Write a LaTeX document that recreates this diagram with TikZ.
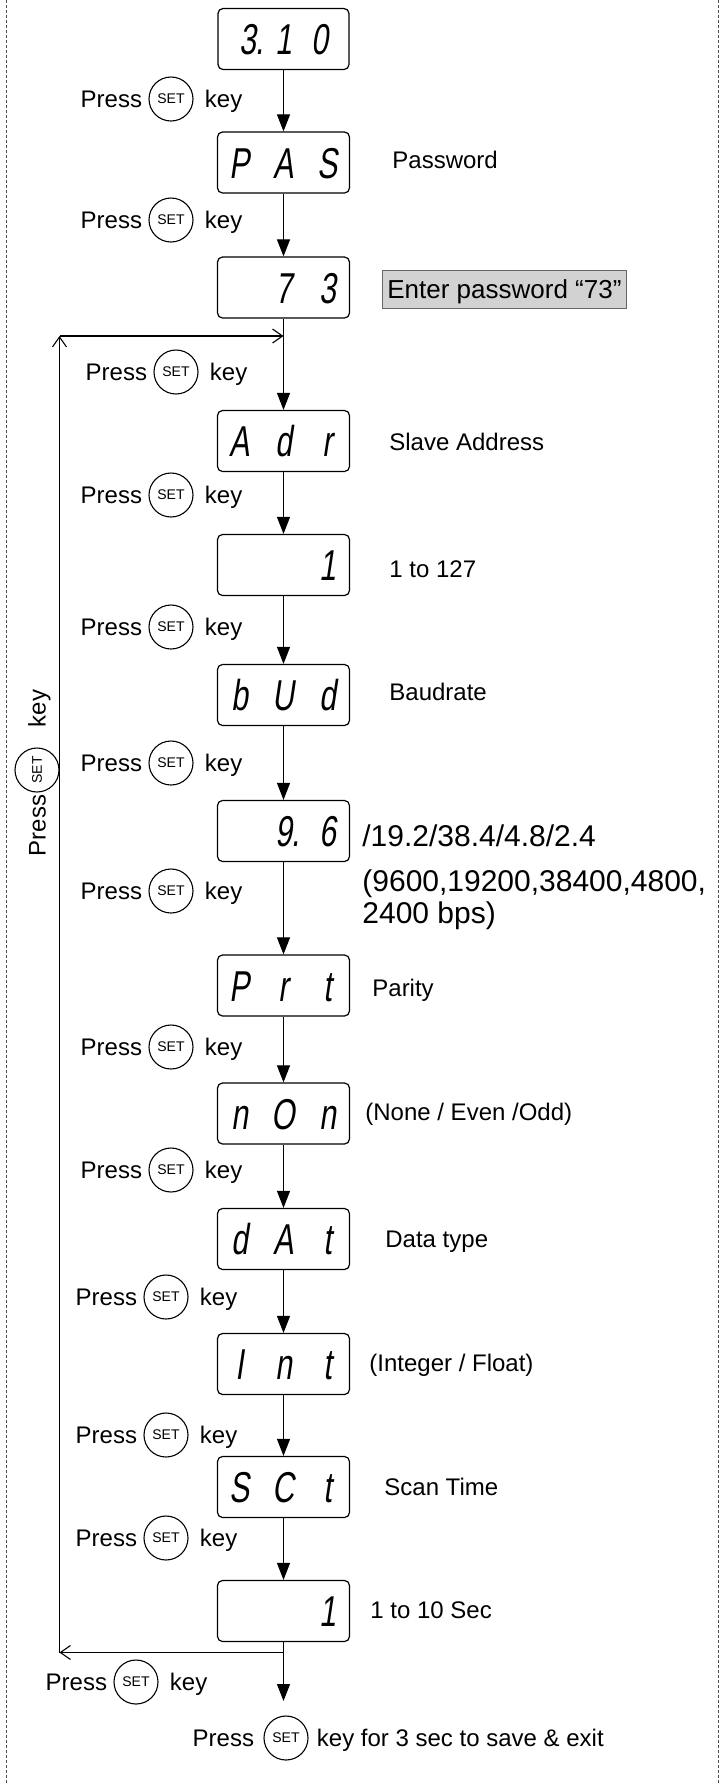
\documentclass[tikz,border=0pt]{standalone}
\usepackage{fontspec}
\setmainfont{Liberation Sans}
\newfontfamily\lcdfont[FakeStretch=0.7,FakeSlant=0.15]{Liberation Sans}
\usetikzlibrary{arrows.meta,positioning}
\newcommand{\lcd}[4][22pt]{\makebox[#1]{#2}\makebox[#1]{#3}\makebox[#1]{#4}}

\begin{document}
\begin{tikzpicture}[x=0.5pt,y=-0.5pt,
    lcdbox/.style={draw,line width=0.6pt,rounded corners=2.5pt,minimum width=65.5pt,minimum height=30.5pt,inner sep=0pt,
        font=\lcdfont\fontsize{21.6}{22}\selectfont,text height=15.5pt,text depth=0pt},
    setkey/.style={draw,circle,line width=0.55pt,minimum size=22pt,inner sep=0pt,font=\fontsize{7}{8}\selectfont},
    txt/.style={inner sep=0pt,font=\fontsize{12}{14}\selectfont,text height=8.6pt,text depth=0pt},
    big/.style={txt,font=\fontsize{15}{17}\selectfont,text height=10.7pt},
    flow/.style={line width=0.55pt,-{Triangle[length=8.5pt,width=6.5pt]}},
    back/.style={line width=0.55pt,-{Straight Barb[length=5pt,width=7pt]}}]
        \useasboundingbox (0,0) rectangle (721,1784);
        % 枠
        \draw[line width=0.4pt,black!70,dash pattern=on 1.5pt off 1pt] (6,0)--(6,1784);
        \draw[line width=0.4pt,black!70,dash pattern=on 1.5pt off 1pt] (718,0)--(718,1784);
        % 表示
        \node[lcdbox] (b1) at (283.5,39) {\lcd[18pt]{3\rlap{.}}{1}{0}};
        \node[lcdbox] (b2) at (283.5,162.5) {\lcd{P}{A}{S}};
        \node[lcdbox] (b3) at (283.5,287.5) {\lcd{}{7}{3}};
        \node[lcdbox] (b4) at (283.5,441) {\lcd{A}{d}{r}};
        \node[lcdbox] (b5) at (283.5,565) {\lcd{}{}{1}};
        \node[lcdbox] (b6) at (283.5,695) {\lcd{b}{U}{d}};
        \node[lcdbox] (b7) at (283.5,831) {\lcd{}{9\rlap{.}}{6}};
        \node[lcdbox] (b8) at (283.5,985.5) {\lcd{P}{r}{t}};
        \node[lcdbox] (b9) at (283.5,1113.5) {\lcd{n}{O}{n}};
        \node[lcdbox] (b10) at (283.5,1239) {\lcd{d}{A}{t}};
        \node[lcdbox] (b11) at (283.5,1364) {\lcd{I}{n}{t}};
        \node[lcdbox] (b12) at (283.5,1487) {\lcd{S}{C}{t}};
        \node[lcdbox] (b13) at (283.5,1611) {\lcd{}{}{1}};
        % 矢印
        \foreach \a/\b in {b1/b2,b2/b3,b3/b4,b4/b5,b5/b6,b6/b7,b7/b8,b8/b9,b9/b10,b10/b11,b11/b12,b12/b13}
            \draw[flow] (\a)--(\b);
        \coordinate (end) at (283.5,1701);
        \draw[flow] (b13)--(end);
        % 戻り
        \coordinate (jt) at (283.5,336);
        \coordinate (lt) at (59.5,336);
        \coordinate (jb) at (283.5,1652.5);
        \coordinate (lb) at (59.5,1652.5);
        \draw[back] (jb)--(lb);
        \draw[back] (lb)--(lt);
        \draw[back] (lt)--(jt);
        % キー
        \foreach \n/\cx/\cy in {1/171/99,2/171/220,3/176/372,4/171/495,5/171/627,6/171/763,7/171/891,
                8/171/1047,9/171/1170,10/166/1297,11/166/1435,12/166/1538,13/136/1682} {
            \node[setkey] (s\n) at (\cx,\cy) {SET};
            \node[txt,left=3pt of s\n] (p\n) {Press};
            \node[txt,right=5.5pt of s\n] (k\n) {key};
        }
        \node[setkey,rotate=90] (sv) at (37,770) {SET};
        \node[txt,rotate=90,anchor=east] (pv) at ([yshift=-1pt]sv.west) {Press};
        \node[txt,rotate=90,anchor=west] (kv) at ([yshift=10pt]sv.east) {key};
        \node[setkey] (sf) at (286,1738) {SET};
        \node[txt,left=4.5pt of sf] (pf) {Press};
        \node[txt,right=4pt of sf] (kf) {key for 3 sec to save \& exit};
        % 説明
        \node[txt,anchor=west] (t2) at (392,160) {Password};
        \node[txt,anchor=west,font=\fontsize{13}{15}\selectfont,text height=9.3pt,draw=black!60,fill=gray!35,
            inner xsep=2.5pt,minimum height=19pt] (t3) at (382,289.5) {Enter password “73”};
        \node[txt,anchor=west] (t4) at (389,442) {Slave Address};
        \node[txt,anchor=west] (t5) at (389,569) {1 to 127};
        \node[txt,anchor=west] (t6) at (389,692) {Baudrate};
        \node[big,anchor=west] (t7) at (362,836) {/19.2/38.4/4.8/2.4};
        \node[big,anchor=west] (t7a) at (362,881) {(9600,19200,38400,4800,};
        \node[big,anchor=west] (t7b) at (362,913) {2400 bps)};
        \node[txt,anchor=west] (t8) at (372,988) {Parity};
        \node[txt,anchor=west] (t9) at (365,1112) {(None / Even /Odd)};
        \node[txt,anchor=west] (t10) at (385,1239) {Data type};
        \node[txt,anchor=west] (t11) at (369,1363) {(Integer / Float)};
        \node[txt,anchor=west] (t12) at (384,1487) {Scan Time};
        \node[txt,anchor=west] (t13) at (370,1610) {1 to 10 Sec};
\end{tikzpicture}
\end{document}
